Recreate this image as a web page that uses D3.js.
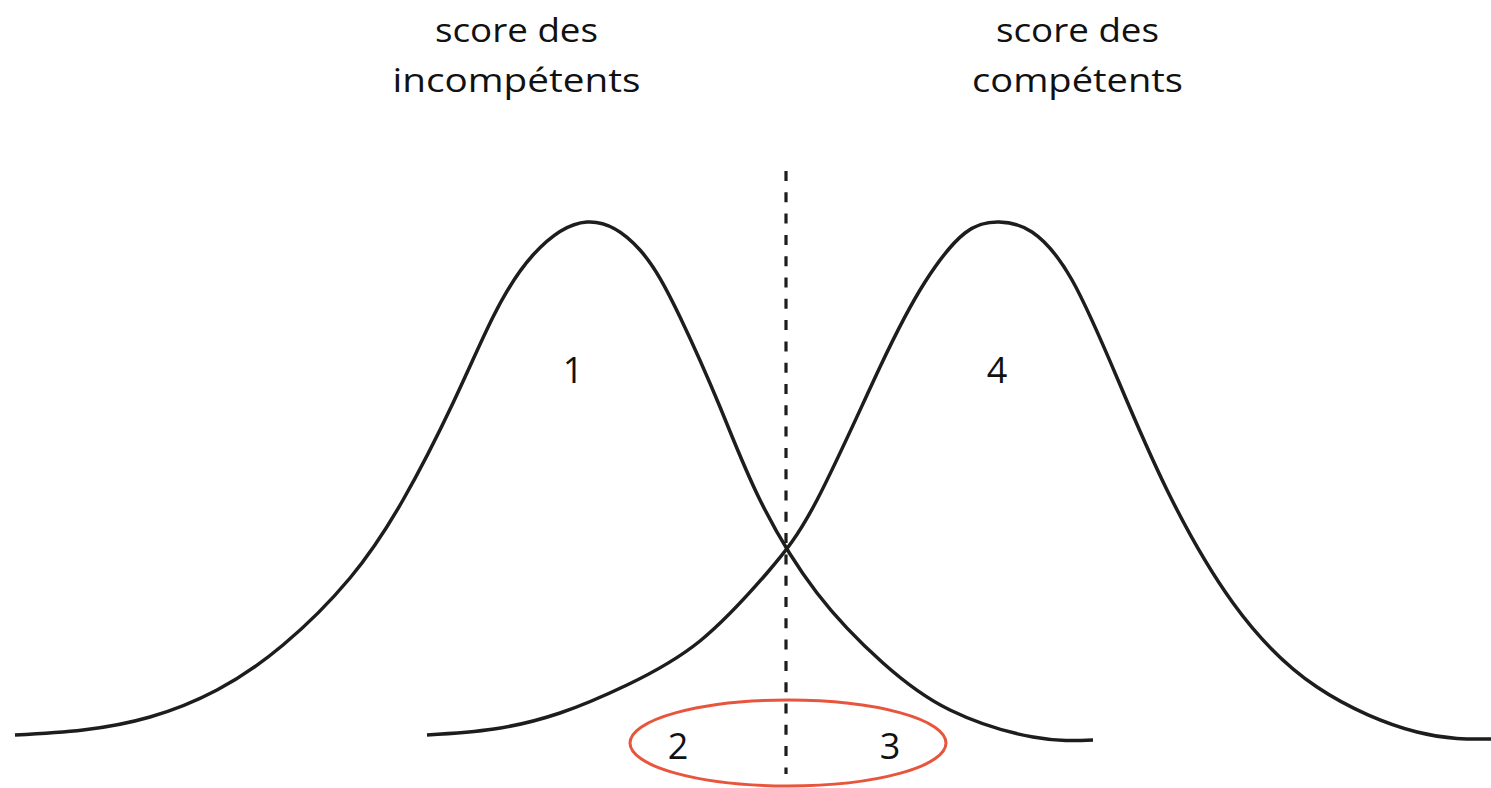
<!DOCTYPE html>
<html>
<head>
<meta charset="utf-8">
<script src="https://cdn.jsdelivr.net/npm/d3@7"></script>
<style>
  body { margin: 0; background: #fff; }
  text { font-family: "Open Sans", "Noto Sans", sans-serif; fill: #111; }
</style>
</head>
<body>
<div id="chart"></div>
<script>
// score / density pairs (arbitrary units)
const incompScore = [0.5, 7.3, 14.0, 20.7, 27.3, 34.0, 39.3, 44.3, 48.3, 52.3, 57.7, 63.0, 67.0, 71.0, 75.0, 80.7, 87.3, 94.0, 102.3, 108.3];
const incompDens  = [2.5, 5.0, 11.5, 25.0, 47.5, 81.0, 120.0, 168.5, 211.5, 242.5, 259.0, 245.0, 211.5, 166.5, 120.0, 73.5, 38.5, 15.0, 1.5, 0];

const compScore = [41.7, 48.4, 55.0, 61.7, 69.0, 75.7, 80.7, 87.0, 91.5, 95.5, 98.9, 102.2, 106.2, 110.8, 115.7, 122.3, 130.7, 140.7, 148.1];
const compDens  = [2.5, 5.5, 13.5, 27.5, 49.5, 83.5, 120.0, 186.5, 229.0, 253.5, 259.0, 254.0, 230.0, 180.0, 125.0, 68.5, 26.5, 4.0, 0.5];

const threshold = 77.6;

const titleLines = [["score des", "incompétents"], ["score des", "compétents"]];
const titleScore = [50.65, 106.75];

const regionLabels = ["1", "2", "3", "4"];
const regionScore = [56.3, 66.8, 88.0, 98.7];
const regionDens = [178.5, -9.5, -9.5, 178.5];

var width = 1491, height = 788;
var titleWidths = {"score des": 163, "incompétents": 248, "compétents": 211};

var svg = d3.select("#chart").append("svg")
  .attr("width", width)
  .attr("height", height);

var x = d3.scaleLinear().domain([0, 148]).range([10, 1490]);
var y = d3.scaleLinear().domain([0, 259]).range([740, 222]);

var line = d3.line()
  .x(d => x(d[0]))
  .y(d => y(d[1]))
  .curve(d3.curveNatural);

var curves = [
  d3.zip(incompScore, incompDens),
  d3.zip(compScore, compDens)
];

// dashed threshold
svg.append("line")
  .attr("x1", x(threshold)).attr("x2", x(threshold))
  .attr("y1", 171).attr("y2", 774)
  .attr("stroke", "#1d1d1b")
  .attr("stroke-width", 3.2)
  .attr("stroke-dasharray", "10,11.3");

svg.selectAll(".curve")
  .data(curves)
  .enter()
  .append("path")
    .attr("class", "curve")
    .attr("d", line)
    .attr("fill", "none")
    .attr("stroke", "#1d1d1b")
    .attr("stroke-width", 3.5);

// red ellipse round the errors
svg.append("ellipse")
  .attr("cx", x(threshold) + 2)
  .attr("cy", 743)
  .attr("rx", 158)
  .attr("ry", 43)
  .attr("fill", "none")
  .attr("stroke", "#e8553d")
  .attr("stroke-width", 3);

// titles
titleLines.forEach(function(t, i) {
  t.forEach(function(s, j) {
    svg.append("text")
      .attr("text-anchor", "middle")
      .attr("x", x(titleScore[i]))
      .attr("y", 42 + j * 50)
      .attr("textLength", titleWidths[s])
      .attr("lengthAdjust", "spacingAndGlyphs")
      .style("font-size", "32px")
      .text(s);
  });
});

svg.selectAll(".region")
  .data(regionLabels)
  .enter()
  .append("text")
    .attr("class", "region")
    .attr("text-anchor", "middle")
    .attr("x", (d, i) => x(regionScore[i]))
    .attr("y", (d, i) => y(regionDens[i]))
    .style("font-size", "36px")
    .text(d => d);
</script>
</body>
</html>
